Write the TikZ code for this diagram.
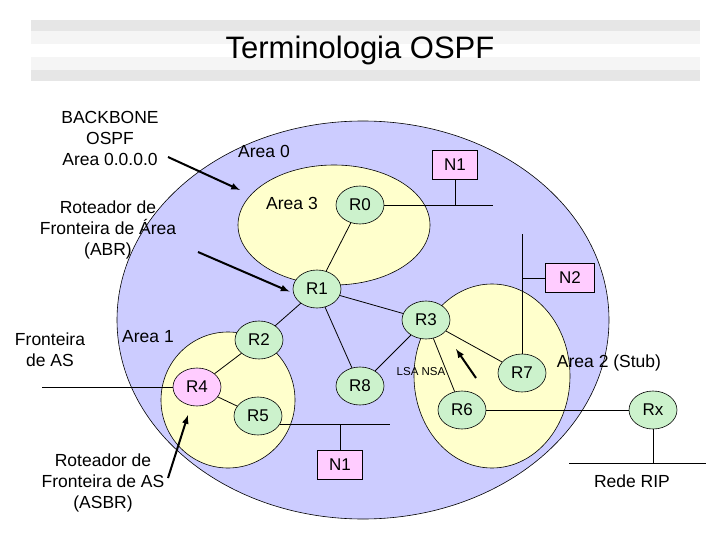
\documentclass[tikz,border=0pt]{standalone}
\usepackage{fontspec}
\setmainfont{Liberation Sans}
\usetikzlibrary{shapes,arrows,positioning,backgrounds,calc}

\definecolor{areablue}{RGB}{204,204,255}
\definecolor{areayellow}{RGB}{255,255,204}
\definecolor{routergreen}{RGB}{204,242,204}
\definecolor{netpink}{RGB}{255,204,255}
\definecolor{banddark}{RGB}{230,230,230}
\definecolor{bandlight}{RGB}{245,245,245}

\begin{document}
\begin{tikzpicture}[x=1pt, y=-1pt,
    area/.style={ellipse, draw=black, line width=0.6pt, inner sep=0pt},
    router/.style={ellipse, draw=black, line width=0.6pt, fill=routergreen, minimum width=48pt, minimum height=38pt, inner sep=0pt, font=\fontsize{17}{17}\selectfont},
    asbr/.style={router, fill=netpink},
    net/.style={rectangle, draw=black, line width=0.6pt, fill=netpink, minimum width=45pt, minimum height=29pt, inner sep=0pt, font=\fontsize{17}{17}\selectfont},
    note/.style={align=center, inner sep=0pt, font=\fontsize{17.5}{21}\selectfont},
    link/.style={draw, line width=0.8pt},
    arrow/.style={draw, line width=2pt, -latex}
]
    \useasboundingbox (0,0) rectangle (720,540);

    % Title band
    \fill[banddark] (31,20) rectangle (700,81);
    \fill[bandlight] (31,31) rectangle (700,70);
    \fill[white] (31,44) rectangle (700,57);
    \node[inner sep=0pt, font=\fontsize{31}{31}\selectfont] (title) at (360,50) {Terminologia OSPF};

    % Areas
    \node[area, fill=areablue, minimum width=492pt, minimum height=398pt] (area0) at (363,320) {};
    \node[area, fill=areayellow, minimum width=192pt, minimum height=120pt] (area3) at (334,225) {};
    \node[area, fill=areayellow, minimum width=134pt, minimum height=136pt] (area1) at (228,400) {};
    \node[area, fill=areayellow, minimum width=156pt, minimum height=184pt] (area2) at (492,376) {};

    \node[note] (lbl0) at (264,151) {Area 0};
    \node[note] (lbl3) at (292,203) {Area 3};
    \node[note] (lbl1) at (148,337) {Area 1};
    \node[note] (lbl2) at (609,363) {Area 2 (Stub)};

    % Free ends of the network segments
    \coordinate (n1bus) at (493,205);
    \coordinate (n2top) at (522,234);
    \coordinate (asline) at (42,387);
    \coordinate (n1bus2) at (390,424);
    \coordinate (ripbus) at (653,463);
    \coordinate (ripwest) at (569,463);
    \coordinate (ripeast) at (706,463);

    % Routers
    \node[router] (r0) at (360,205) {R0};
    \node[router] (r1) at (317,289) {R1};
    \node[router] (r3) at (426,320) {R3};
    \node[router] (r2) at (259,340) {R2};
    \node[asbr] (r4) at (197,387) {R4};
    \node[router] (r5) at (258,416) {R5};
    \node[router] (r8) at (360,386) {R8};
    \node[router] (r6) at (462,410) {R6};
    \node[router] (r7) at (522,373) {R7};
    \node[router] (rx) at (653,410) {Rx};

    % Networks
    \node[net] (n1a) at (455,165) {N1};
    \node[net, minimum width=49pt] (n2) at (570,278) {N2};
    \node[net] (n1b) at (340,465) {N1};

    % Connections
    \path [link] (r0) -- (r1);
    \path [link] (r1) -- (r3);
    \path [link] (r1) -- (r2);
    \path [link] (r1) -- (r8);
    \path [link] (r3) -- (r8);
    \path [link] (r3) -- (r6);
    \path [link] (r3) -- (r7);
    \path [link] (r2) -- (r4);
    \path [link] (r4) -- (r5);

    \path [link] (r0) -- (n1bus);
    \path [link] (n1a) -- (n1a |- n1bus);
    \path [link] (n2top) -- (r7);
    \path [link] (n2) -- (n2 -| n2top);
    \path [link] (r4) -- (asline);
    \path [link] (r5.-20) -- (r5.-20 -| n1bus2);
    \path [link] (n1b) -- (n1b |- n1bus2);
    \path [link] (r6) -- (rx);
    \path [link] (rx) -- (ripbus);
    \path [link] (ripwest) -- (ripeast);

    % Side notes
    \node[note] (backbone) at (110,138) {BACKBONE\\OSPF\\Area 0.0.0.0};
    \node[note] (abr) at (108,230) {Roteador de\\Fronteira de Área\\(ABR)};
    \node[note] (border) at (50,350) {Fronteira\\de AS};
    \node[note] (asbrtext) at (103,483) {Roteador de\\Fronteira de AS\\(ASBR)};
    \node[note] (rip) at (632,481) {Rede RIP};
    \node[inner sep=0pt, font=\fontsize{11.5}{11.5}\selectfont] (lsa) at (421,372) {LSA NSA};

    % Arrows
    \coordinate (bbtail) at (168,157);
    \coordinate (bbhead) at (240,190);
    \coordinate (abrtail) at (198,252);
    \coordinate (asbrtail) at (168,478);
    \coordinate (asbrhead) at (188,415);
    \coordinate (lsatail) at (476,378);
    \coordinate (lsahead) at (456,349);

    \draw [arrow] (bbtail) -- (bbhead);
    \draw [arrow, shorten >=4pt] (abrtail) -- (r1.190);
    \draw [arrow] (asbrtail) -- (asbrhead);
    \draw [arrow] (lsatail) -- (lsahead);

\end{tikzpicture}
\end{document}
